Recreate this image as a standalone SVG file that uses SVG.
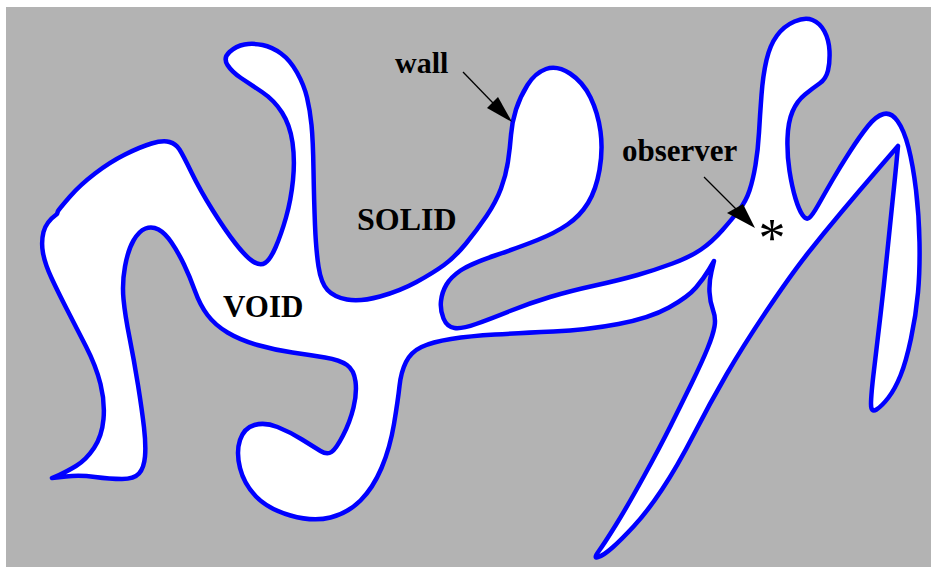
<svg xmlns="http://www.w3.org/2000/svg" width="931" height="567" viewBox="0 0 931 567">
<style>
.bg{fill:#b3b3b3}
.void{fill:#ffffff;stroke:#0000ff;stroke-width:4.5;stroke-linejoin:round}
.lbl{font-family:"Liberation Serif","Times New Roman",serif;font-weight:bold;fill:#000}
.ptr{stroke:#000;stroke-width:1.3;fill:none}
.head{fill:#000}
</style>
<rect class="bg" x="6" y="7" width="925" height="560"/>
<g id="void">
<path class="void" d="M262.5,45 Q253,43 244.5,44.5 Q236,46 229.5,52 Q223,58 227.5,65 Q232,72 241,78 Q250,84 262,92 Q274,100 282,112.5 Q290,125 292.5,142.5 Q295,160 293,180 Q291,200 286,217.5 Q281,235 275.5,247.5 Q270,260 265,263 Q260,266 253,261.5 Q246,257 235.5,243.5 Q225,230 212.5,210 Q200,190 191.5,172.5 Q183,155 179.5,149.5 Q176,144 169.5,142 Q163,140 151.5,143.5 Q140,147 125,154.5 Q110,162 95,173.5 Q80,185 70,196.5 Q60,208 58,211 L57,214 Q46,222 43.5,232 Q41,242 43,253 Q45,264 51.5,278 Q58,292 67,309.5 Q76,327 86,346.5 Q96,366 100.5,384 Q105,402 103.5,419 Q102,436 94,448 Q86,460 76,466 Q66,472 59,475 L52,478 L66,476.5 Q80,475 95,477 Q110,479 122,479 Q134,479 139,473.5 Q144,468 145,456.5 Q146,445 144,427.5 Q142,410 138,385 Q134,360 129.5,337.5 Q125,315 123.5,299 Q122,283 125,266.5 Q128,250 133.5,240.5 Q139,231 145.5,228.5 Q152,226 158.5,229.5 Q165,233 171.5,242.5 Q178,252 184,264.5 Q190,277 195,291 Q200,305 207.5,315 Q215,325 227.5,332.5 Q240,340 257.5,345 Q275,350 292.5,352.5 Q310,355 325,357.5 Q340,360 347,365 Q354,370 355.5,381.5 Q357,393 353.5,407.5 Q350,422 343,435.5 Q336,449 331.5,452 Q327,455 320.5,451 Q314,447 302,439.5 Q290,432 277.5,427 Q265,422 254.5,425 Q244,428 240,440 Q236,452 240,468 Q244,484 256,496.5 Q268,509 290.5,515.5 Q313,522 330.5,517.5 Q348,513 360.5,500.5 Q373,488 381.5,468 Q390,448 394,424 Q398,400 399.5,386 Q401,372 406,362 Q411,352 421.5,347 Q432,342 451,339 Q470,336 495,334.5 Q520,333 553.5,331.5 Q587,330 618.5,324 Q650,318 669,307.5 Q688,297 696,287.5 Q704,278 709,269.5 L714,261 L711.5,271.5 Q709,282 709.5,292 Q710,302 713,310 Q716,318 714.5,326.5 Q713,335 707.5,348.5 Q702,362 691.5,383.5 Q681,405 670.5,426 Q660,447 643.5,477 Q627,507 615.5,525.5 Q604,544 598.5,551.5 Q593,559 598.5,557 Q604,555 612.5,547.5 Q621,540 634,526 Q647,512 662,489.5 Q677,467 693.5,435 Q710,403 726.5,374.5 Q743,346 766.5,311 Q790,276 806.5,255 Q823,234 841.5,212 Q860,190 879,168 L898,146 L896.5,162 Q895,178 892.5,201.5 Q890,225 887,255 Q884,285 880.5,315 Q877,345 874,370 Q871,395 871,404 Q871,413 876.5,409.5 Q882,406 888.5,397.5 Q895,389 900.5,375.5 Q906,362 911,338.5 Q916,315 918,292.5 Q920,270 919.5,242.5 Q919,215 916,190 Q913,165 908.5,147.5 Q904,130 897.5,121 Q891,112 883.5,114 Q876,116 868,126 Q860,136 850,151.5 Q840,167 832.5,180 Q825,193 818.5,204.5 Q812,216 809,218 Q806,220 802.5,215 Q799,210 795.5,198.5 Q792,187 789.5,171 Q787,155 787.5,138.5 Q788,122 792.5,111.5 Q797,101 805,94.5 Q813,88 819.5,83.5 Q826,79 828,70.5 Q830,62 829.5,51 Q829,40 824.5,31.5 Q820,23 812.5,20 Q805,17 794.5,21.5 Q784,26 777,35.5 Q770,45 766.5,60 Q763,75 761.5,95 Q760,115 759,132.5 Q758,150 755.5,165 Q753,180 749.5,190.5 Q746,201 739.5,209.5 Q733,218 722.5,230 Q712,242 701,249.5 Q690,257 672.5,263.5 Q655,270 637.5,275 Q620,280 595,285.5 Q570,291 550,297 Q530,303 510,311 Q490,319 476,324 Q462,329 454.5,328 Q447,327 443.5,318.5 Q440,310 441,301 Q442,292 446.5,284.5 Q451,277 460.5,270.5 Q470,264 495,255.5 Q520,247 537.5,240 Q555,233 567.5,224.5 Q580,216 588,203 Q596,190 599.5,170 Q603,150 600.5,131.5 Q598,113 590.5,97.5 Q583,82 570,73.5 Q557,65 546,69 Q535,73 527.5,85 Q520,97 516,109.5 Q512,122 511,135 Q510,148 508,161.5 Q506,175 501,188.5 Q496,202 486.5,216 Q477,230 466,243.5 Q455,257 444,265 Q433,273 416.5,282 Q400,291 380,296.5 Q360,302 347,299.5 Q334,297 327.5,290 Q321,283 318.5,266.5 Q316,250 315,225 Q314,200 313.5,170 Q313,140 311.5,125 Q310,110 307,97.5 Q304,85 297,72.5 Q290,60 281,53.5 Q272,47 262.5,45 Z"/>
</g>
<g id="label-solid"><text class="lbl" x="357" y="230" font-size="32">SOLID</text></g>
<g id="label-void"><text class="lbl" x="223" y="317" font-size="31">VOID</text></g>
<g id="label-wall">
<text class="lbl" x="395" y="73" font-size="30">wall</text>
<line class="ptr" x1="463" y1="72" x2="493" y2="103"/>
<polygon class="head" points="487,108 498,97 512,122"/>
</g>
<g id="label-observer">
<text class="lbl" x="622" y="161" font-size="31">observer</text>
<line class="ptr" x1="704" y1="177" x2="736" y2="209"/>
<polygon class="head" points="727,213 743,204 755,228"/>
</g>
<g id="observer"><text x="772" y="256" font-size="54" text-anchor="middle" font-family="Liberation Serif, Times New Roman, serif" fill="#000">*</text></g>
</svg>
